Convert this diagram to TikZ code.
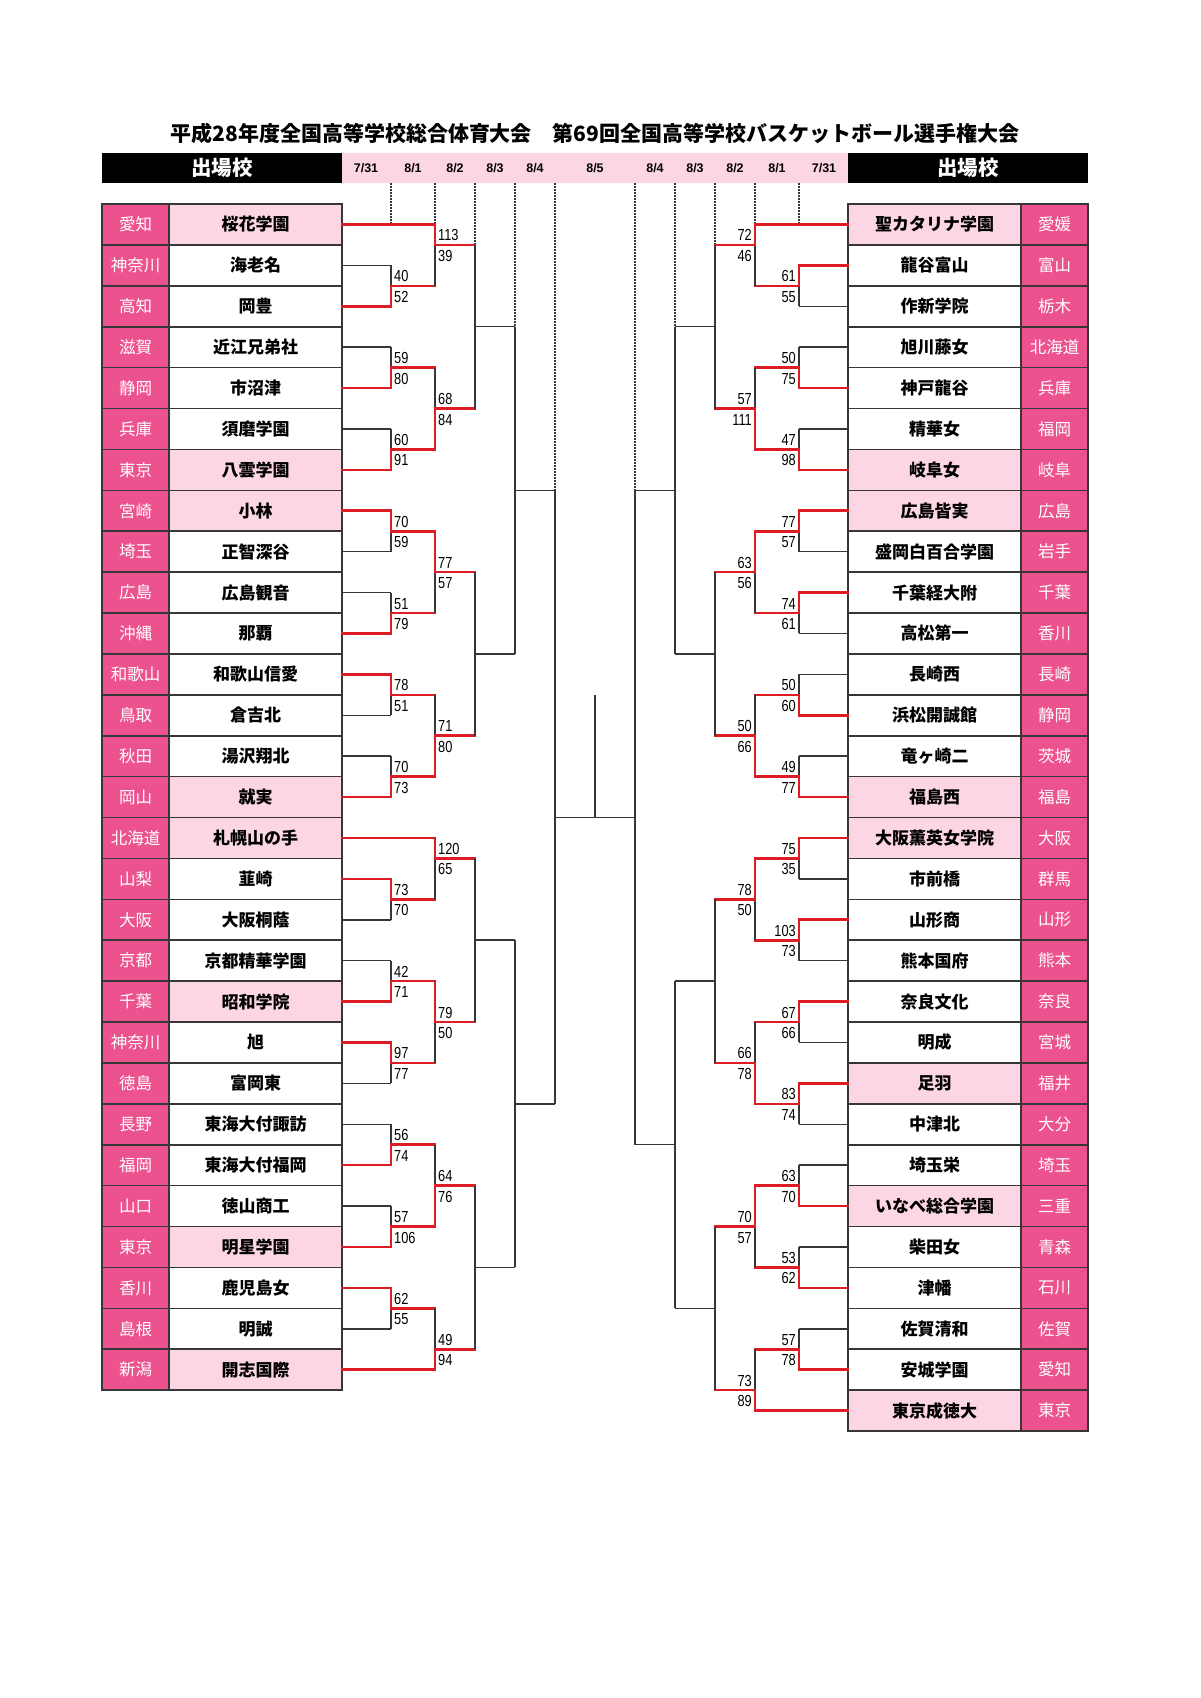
\documentclass[tikz,border=0pt]{standalone}
\usepackage{fontspec}
\setmainfont{Noto Sans CJK JP}
\newfontfamily\numf[FakeStretch=0.8]{Liberation Sans}
\newfontfamily\datef{Liberation Sans}
\definecolor{prefpink}{RGB}{236,82,142}
\definecolor{pk}{RGB}{253,214,230}
\colorlet{wh}{white}
\definecolor{barpink}{RGB}{252,214,229}
\definecolor{lc}{RGB}{55,55,55}
\definecolor{rl}{RGB}{222,28,36}
\newcommand\gy[1]{204+20.45*(#1)}
\newcommand\lgame[9]{%
  \draw[bl] (#2,{\gy{#4}}) -- (#2,{\gy{#5}});
  \draw[bl] (#2,{\gy{#6}}) -- (#3,{\gy{#6}});
  \if a#9\draw[rd] (#2,{\gy{#4}}) -- (#2,{\gy{#6}}) -- (#3,{\gy{#6}});\fi
  \if b#9\draw[rd] (#2,{\gy{#5}}) -- (#2,{\gy{#6}}) -- (#3,{\gy{#6}});\fi
  \if n#9\else
    \node[sc,anchor=base west] (#1a) at ({#2+3},{\gy{#6}-4}) {#7};
    \node[sc,anchor=base west] (#1b) at ({#2+3},{\gy{#6}+16.5}) {#8};
  \fi}
\newcommand\rgame[9]{%
  \draw[bl] (#2,{\gy{#4}}) -- (#2,{\gy{#5}});
  \draw[bl] (#2,{\gy{#6}}) -- (#3,{\gy{#6}});
  \if a#9\draw[rd] (#2,{\gy{#4}}) -- (#2,{\gy{#6}}) -- (#3,{\gy{#6}});\fi
  \if b#9\draw[rd] (#2,{\gy{#5}}) -- (#2,{\gy{#6}}) -- (#3,{\gy{#6}});\fi
  \if n#9\else
    \node[sc,anchor=base east] (#1a) at ({#2-3},{\gy{#6}-4}) {#7};
    \node[sc,anchor=base east] (#1b) at ({#2-3},{\gy{#6}+16.5}) {#8};
  \fi}
\begin{document}
\begin{tikzpicture}[x=1pt,y=-1pt,
  bl/.style={draw=lc,line width=1.5},
  rd/.style={draw=rl,line width=2.6,line cap=rect},
  dt/.style={draw=lc,line width=1.5,dash pattern=on 1.5pt off 1.5pt},
  pref/.style={draw=lc,line width=1.6,fill=prefpink,minimum width=67,minimum height=40.9,inner sep=0,outer sep=0,text=white,font=\fontsize{16.5}{16.5}\selectfont},
  tname/.style={draw=lc,line width=1.6,minimum width=173,minimum height=40.9,inner sep=0,outer sep=0,font=\bfseries\fontsize{17}{17}\selectfont},
  sc/.style={font=\numf\fontsize{16}{16}\selectfont,inner sep=0,text=black},
  hdr/.style={fill=black,minimum width=240,minimum height=30,inner sep=0,text=white,font=\bfseries\fontsize{20.5}{20.5}\selectfont},
  dte/.style={font=\datef\bfseries\fontsize{12.5}{12.5}\selectfont,inner sep=0}
]
\path[fill=white] (0,0) rectangle (1200,1698);
\node[font=\bfseries\fontsize{21}{21}\selectfont] (title) at (595,133) {平成28年度全国高等学校総合体育大会　第69回全国高等学校バスケットボール選手権大会};
\path[fill=barpink] (342,153) rectangle (848,183);
\node[hdr] (hl) at (222,168) {出場校};
\node[hdr] (hr) at (968,168) {出場校};
\node[dte] (d1) at (366,168) {7/31};
\node[dte] (d2) at (413,168) {8/1};
\node[dte] (d3) at (455,168) {8/2};
\node[dte] (d4) at (495,168) {8/3};
\node[dte] (d5) at (535,168) {8/4};
\node[dte] (d6) at (595,168) {8/5};
\node[dte] (d7) at (655,168) {8/4};
\node[dte] (d8) at (695,168) {8/3};
\node[dte] (d9) at (735,168) {8/2};
\node[dte] (d10) at (777,168) {8/1};
\node[dte] (d11) at (824,168) {7/31};
% dotted day lines
\draw[dt] (391,183) -- (391,{\gy{1}});
\draw[dt] (435,183) -- (435,{\gy{1}});
\draw[dt] (475,183) -- (475,{\gy{2}});
\draw[dt] (515,183) -- (515,{\gy{6}});
\draw[dt] (555,183) -- (555,{\gy{14}});
\draw[dt] (635,183) -- (635,{\gy{14}});
\draw[dt] (675,183) -- (675,{\gy{6}});
\draw[dt] (715,183) -- (715,{\gy{2}});
\draw[dt] (755,183) -- (755,{\gy{1}});
\draw[dt] (799,183) -- (799,{\gy{1}});
% left teams
\foreach \p/\n/\c/\x/\s [count=\i from 0] in {
 愛知/桜花学園/pk/435/rd, 神奈川/海老名/wh/391/bl, 高知/岡豊/wh/391/rd,
 滋賀/近江兄弟社/wh/391/bl, 静岡/市沼津/wh/391/rd, 兵庫/須磨学園/wh/391/bl,
 東京/八雲学園/pk/391/rd, 宮崎/小林/pk/391/rd, 埼玉/正智深谷/wh/391/bl,
 広島/広島観音/wh/391/bl, 沖縄/那覇/wh/391/rd, 和歌山/和歌山信愛/wh/391/rd,
 鳥取/倉吉北/wh/391/bl, 秋田/湯沢翔北/wh/391/bl, 岡山/就実/pk/391/rd,
 北海道/札幌山の手/pk/435/rd, 山梨/韮崎/wh/391/rd, 大阪/大阪桐蔭/wh/391/bl,
 京都/京都精華学園/wh/391/bl, 千葉/昭和学院/pk/391/rd, 神奈川/旭/wh/391/rd,
 徳島/富岡東/wh/391/bl, 長野/東海大付諏訪/wh/391/bl, 福岡/東海大付福岡/wh/391/rd,
 山口/徳山商工/wh/391/bl, 東京/明星学園/pk/391/rd, 香川/鹿児島女/wh/391/rd,
 島根/明誠/wh/391/bl, 新潟/開志国際/pk/435/rd}{
  \node[pref] (Lp\i) at (135.5,{\gy{2*\i+1}}) {\p};
  \node[tname,fill=\c] (Ln\i) at (255.5,{\gy{2*\i+1}}) {\n};
  \draw[\s] (Ln\i.east) -- ++({\x-342},0);
}
% right teams
\foreach \p/\n/\c/\x/\s [count=\i from 0] in {
 愛媛/聖カタリナ学園/pk/755/rd, 富山/龍谷富山/wh/799/rd, 栃木/作新学院/wh/799/bl,
 北海道/旭川藤女/wh/799/bl, 兵庫/神戸龍谷/wh/799/rd, 福岡/精華女/wh/799/bl,
 岐阜/岐阜女/pk/799/rd, 広島/広島皆実/pk/799/rd, 岩手/盛岡白百合学園/wh/799/bl,
 千葉/千葉経大附/wh/799/rd, 香川/高松第一/wh/799/bl, 長崎/長崎西/wh/799/bl,
 静岡/浜松開誠館/wh/799/rd, 茨城/竜ヶ崎二/wh/799/bl, 福島/福島西/pk/799/rd,
 大阪/大阪薫英女学院/pk/799/rd, 群馬/市前橋/wh/799/bl, 山形/山形商/wh/799/rd,
 熊本/熊本国府/wh/799/bl, 奈良/奈良文化/wh/799/rd, 宮城/明成/wh/799/bl,
 福井/足羽/pk/799/rd, 大分/中津北/wh/799/bl, 埼玉/埼玉栄/wh/799/bl,
 三重/いなべ総合学園/pk/799/rd, 青森/柴田女/wh/799/bl, 石川/津幡/wh/799/rd,
 佐賀/佐賀清和/wh/799/bl, 愛知/安城学園/wh/799/rd, 東京/東京成徳大/pk/755/rd}{
  \node[tname,fill=\c] (Rn\i) at (934.5,{\gy{2*\i+1}}) {\n};
  \node[pref] (Rp\i) at (1054.5,{\gy{2*\i+1}}) {\p};
  \draw[\s] (Rn\i.west) -- ++({\x-848},0);
}
% left bracket
\lgame{L1}{391}{435}{3}{5}{4}{40}{52}{b}
\lgame{L2}{435}{475}{1}{4}{2}{113}{39}{a}
\lgame{L3}{391}{435}{7}{9}{8}{59}{80}{b}
\lgame{L4}{391}{435}{11}{13}{12}{60}{91}{b}
\lgame{L5}{435}{475}{8}{12}{10}{68}{84}{b}
\lgame{L6}{475}{515}{2}{10}{6}{}{}{n}
\lgame{L7}{391}{435}{15}{17}{16}{70}{59}{a}
\lgame{L8}{391}{435}{19}{21}{20}{51}{79}{b}
\lgame{L9}{435}{475}{16}{20}{18}{77}{57}{a}
\lgame{L10}{391}{435}{23}{25}{24}{78}{51}{a}
\lgame{L11}{391}{435}{27}{29}{28}{70}{73}{b}
\lgame{L12}{435}{475}{24}{28}{26}{71}{80}{b}
\lgame{L13}{475}{515}{18}{26}{22}{}{}{n}
\lgame{L14}{515}{555}{6}{22}{14}{}{}{n}
\lgame{L15}{391}{435}{33}{35}{34}{73}{70}{a}
\lgame{L16}{435}{475}{31}{34}{32}{120}{65}{a}
\lgame{L17}{391}{435}{37}{39}{38}{42}{71}{b}
\lgame{L18}{391}{435}{41}{43}{42}{97}{77}{a}
\lgame{L19}{435}{475}{38}{42}{40}{79}{50}{a}
\lgame{L20}{475}{515}{32}{40}{36}{}{}{n}
\lgame{L21}{391}{435}{45}{47}{46}{56}{74}{b}
\lgame{L22}{391}{435}{49}{51}{50}{57}{106}{b}
\lgame{L23}{435}{475}{46}{50}{48}{64}{76}{b}
\lgame{L24}{391}{435}{53}{55}{54}{62}{55}{a}
\lgame{L25}{435}{475}{54}{57}{56}{49}{94}{b}
\lgame{L26}{475}{515}{48}{56}{52}{}{}{n}
\lgame{L27}{515}{555}{36}{52}{44}{}{}{n}
\lgame{L28}{555}{595}{14}{44}{30}{}{}{n}
% right bracket
\rgame{R1}{799}{755}{3}{5}{4}{61}{55}{a}
\rgame{R2}{755}{715}{1}{4}{2}{72}{46}{a}
\rgame{R3}{799}{755}{7}{9}{8}{50}{75}{b}
\rgame{R4}{799}{755}{11}{13}{12}{47}{98}{b}
\rgame{R5}{755}{715}{8}{12}{10}{57}{111}{b}
\rgame{R6}{715}{675}{2}{10}{6}{}{}{n}
\rgame{R7}{799}{755}{15}{17}{16}{77}{57}{a}
\rgame{R8}{799}{755}{19}{21}{20}{74}{61}{a}
\rgame{R9}{755}{715}{16}{20}{18}{63}{56}{a}
\rgame{R10}{799}{755}{23}{25}{24}{50}{60}{b}
\rgame{R11}{799}{755}{27}{29}{28}{49}{77}{b}
\rgame{R12}{755}{715}{24}{28}{26}{50}{66}{b}
\rgame{R13}{715}{675}{18}{26}{22}{}{}{n}
\rgame{R14}{675}{635}{6}{22}{14}{}{}{n}
\rgame{R15}{799}{755}{31}{33}{32}{75}{35}{a}
\rgame{R16}{799}{755}{35}{37}{36}{103}{73}{a}
\rgame{R17}{755}{715}{32}{36}{34}{78}{50}{a}
\rgame{R18}{799}{755}{39}{41}{40}{67}{66}{a}
\rgame{R19}{799}{755}{43}{45}{44}{83}{74}{a}
\rgame{R20}{755}{715}{40}{44}{42}{66}{78}{b}
\rgame{R21}{715}{675}{34}{42}{38}{}{}{n}
\rgame{R22}{799}{755}{47}{49}{48}{63}{70}{b}
\rgame{R23}{799}{755}{51}{53}{52}{53}{62}{b}
\rgame{R24}{755}{715}{48}{52}{50}{70}{57}{a}
\rgame{R25}{799}{755}{55}{57}{56}{57}{78}{b}
\rgame{R26}{755}{715}{56}{59}{58}{73}{89}{b}
\rgame{R27}{715}{675}{50}{58}{54}{}{}{n}
\rgame{R28}{675}{635}{38}{54}{46}{}{}{n}
\rgame{R29}{635}{595}{14}{46}{30}{}{}{n}
% final
\coordinate (fin) at (595,{\gy{24}});
\draw[bl] (fin) -- (595,{\gy{30}});
\end{tikzpicture}
\end{document}
